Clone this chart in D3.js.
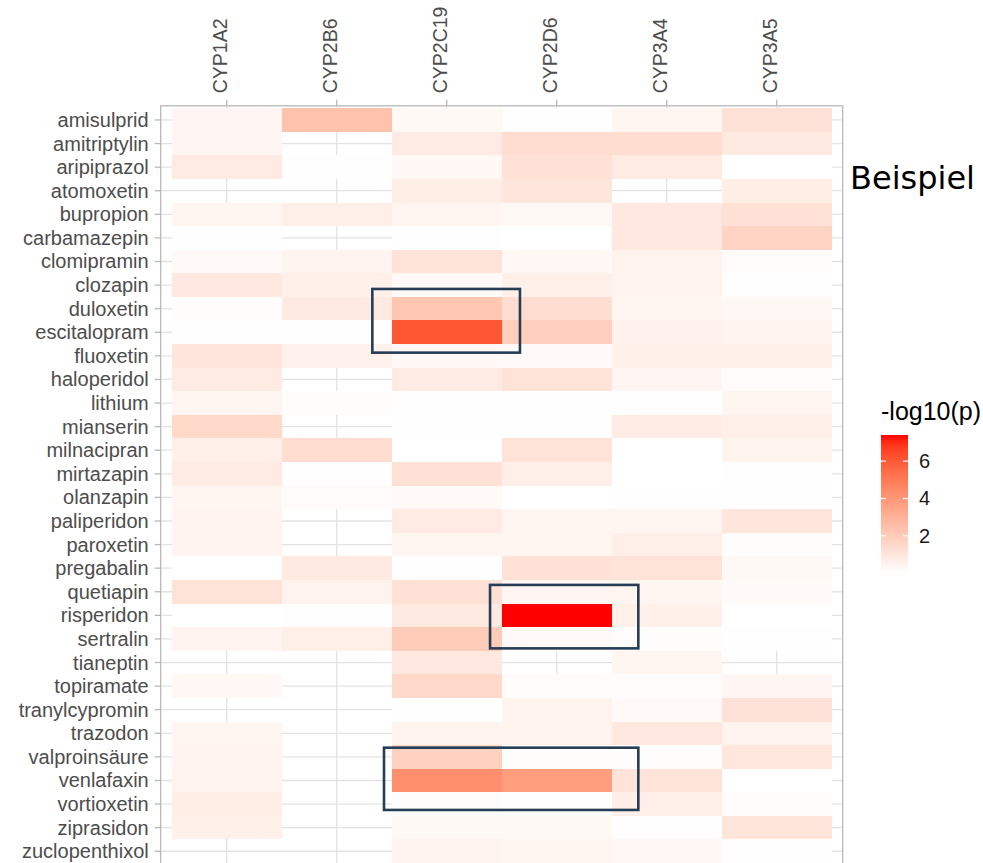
<!DOCTYPE html>
<html>
<head>
<meta charset="utf-8">
<script src="https://cdn.jsdelivr.net/npm/d3@7"></script>
<style>
  body { margin: 0; background: #fff; }
  svg { display: block; }
</style>
</head>
<body>
<svg id="chart" width="983" height="863"></svg>
<script>
// Drugs (rows, top to bottom) and CYP enzymes (columns)
const drugs = [
  "amisulprid", "amitriptylin", "aripiprazol", "atomoxetin", "bupropion",
  "carbamazepin", "clomipramin", "clozapin", "duloxetin", "escitalopram",
  "fluoxetin", "haloperidol", "lithium", "mianserin", "milnacipran",
  "mirtazapin", "olanzapin", "paliperidon", "paroxetin", "pregabalin",
  "quetiapin", "risperidon", "sertralin", "tianeptin", "topiramate",
  "tranylcypromin", "trazodon", "valproinsäure", "venlafaxin", "vortioxetin",
  "ziprasidon", "zuclopenthixol"
];
const enzymes = ["CYP1A2", "CYP2B6", "CYP2C19", "CYP2D6", "CYP3A4", "CYP3A5"];

// -log10(p) per enzyme, one value per drug (null = no test)
const cyp1a2 = [0.35, 0.35, 0.8, null, 0.4, 0.03, 0.2, 0.9, 0.1, 0.05,
  1.0, 0.8, 0.4, 1.5, 0.65, 0.8, 0.4, 0.45, 0.45, 0.02,
  1.1, 0.02, 0.45, null, 0.3, null, 0.4, 0.45, 0.5, 0.7,
  0.6, null];
const cyp2b6 = [2.4, null, 0.05, null, 0.65, null, 0.45, 0.6, 0.85, 0.05,
  0.55, null, 0.1, null, 1.3, 0.05, 0.15, null, null, 0.85,
  0.5, 0.05, 0.65, null, null, null, null, null, null, null,
  null, null];
const cyp2c19 = [0.25, 0.8, 0.3, 0.7, 0.4, 0.03, 1.1, 0.2, 2.2, 6.1,
  0.3, 0.8, 0.05, 0.03, 0.02, 1.2, 0.2, 0.8, 0.4, 0.03,
  1.2, 0.85, 2.0, 0.9, 1.5, 0.03, 0.5, 1.8, 4.3, 0.08,
  0.25, 0.45];
const cyp2d6 = [0.03, 1.3, 1.2, 1.0, 0.25, 0.02, 0.3, 0.6, 1.3, 1.9,
  0.2, 1.1, 0.03, 0.03, 1.1, 0.65, 0.02, 0.4, 0.4, 1.2,
  0.35, 7.4, 0.2, null, 0.12, 0.5, 0.5, 0.08, 3.8, 0.03,
  0.25, 0.4];
const cyp3a4 = [0.4, 1.3, 0.8, null, 0.9, 0.9, 0.5, 0.5, 0.4, 0.55,
  0.6, 0.35, 0.05, 0.75, 0.01, 0.02, 0.03, 0.4, 0.65, 1.1,
  0.4, 0.6, 0.08, 0.4, 0.08, 0.2, 0.9, 0.08, 1.1, 0.65,
  0.05, 0.3];
const cyp3a5 = [1.15, 0.85, 0.02, 0.7, 1.2, 1.7, 0.15, 0.03, 0.3, 0.5,
  0.6, 0.15, 0.4, 0.65, 0.5, 0.03, 0.03, 1.0, 0.08, 0.25,
  0.2, 0.01, 0.05, null, 0.35, 1.15, 0.5, 0.95, 0.02, 0.12,
  1.05, 0.05];

const legendTicks = [2, 4, 6];
const legendTitle = "-log10(p)";
const sideNote = "Beispiel";

// Highlight boxes, in axis units (1-based enzyme / drug positions)
const boxXmin = [2.324, 3.394, 2.43];
const boxXmax = [3.666, 4.742, 4.742];
const boxYmin = [8.164, 20.71, 27.61];
const boxYmax = [10.864, 23.40, 30.25];

// Long-format table built from the series above
const series = [cyp1a2, cyp2b6, cyp2c19, cyp2d6, cyp3a4, cyp3a5];
const cells = [];
enzymes.forEach((e, j) => {
  series[j].forEach((v, i) => {
    if (v !== null) cells.push({ enzyme: e, drug: drugs[i], value: v });
  });
});

const svg = d3.select("#chart");
const panel = { left: 160.7, right: 842.7, top: 105.8, bottom: 865.4 };

const x = d3.scaleBand().domain(enzymes)
  .range([panel.left, panel.right]).paddingInner(0).paddingOuter(0.1);
const y = d3.scaleBand().domain(drugs)
  .range([panel.top, panel.bottom]).paddingInner(0).paddingOuter(0.1);

// continuous position helpers (1-based, like a discrete axis)
const xc = d3.scaleLinear().domain([1, 2])
  .range([x(enzymes[0]) + x.bandwidth() / 2, x(enzymes[1]) + x.bandwidth() / 2]);
const yc = d3.scaleLinear().domain([1, 2])
  .range([y(drugs[0]) + y.bandwidth() / 2, y(drugs[1]) + y.bandwidth() / 2]);

const extent = d3.extent(cells, d => d.value);
const color = d3.scaleLinear().domain(extent).range(["white", "red"])
  .interpolate(d3.interpolateLab);

const gridColor = "#e3e3e3";
const borderColor = "#b8b8b8";
const axisText = "#4d4d4d";
const font = "'Liberation Sans', Arial, Helvetica, sans-serif";

// grid lines behind the tiles
const grid = svg.append("g");
grid.selectAll("line.v").data(enzymes).join("line")
  .attr("x1", d => x(d) + x.bandwidth() / 2).attr("x2", d => x(d) + x.bandwidth() / 2)
  .attr("y1", panel.top).attr("y2", panel.bottom)
  .attr("stroke", gridColor).attr("stroke-width", 1.3);
grid.selectAll("line.h").data(drugs).join("line")
  .attr("y1", d => y(d) + y.bandwidth() / 2).attr("y2", d => y(d) + y.bandwidth() / 2)
  .attr("x1", panel.left).attr("x2", panel.right)
  .attr("stroke", gridColor).attr("stroke-width", 1.3);

// tiles
svg.append("g").selectAll("rect").data(cells).join("rect")
  .attr("x", d => x(d.enzyme))
  .attr("y", d => y(d.drug))
  .attr("width", x.bandwidth())
  .attr("height", y.bandwidth())
  .attr("fill", d => color(d.value))
  .attr("shape-rendering", "crispEdges");

// panel border
svg.append("rect")
  .attr("x", panel.left).attr("y", panel.top)
  .attr("width", panel.right - panel.left).attr("height", panel.bottom - panel.top)
  .attr("fill", "none").attr("stroke", borderColor).attr("stroke-width", 1.3);

// top axis with rotated labels
const xAxis = svg.append("g")
  .attr("transform", `translate(0,${panel.top})`)
  .call(d3.axisTop(x).tickSize(6).tickPadding(6));
xAxis.select(".domain").remove();
xAxis.selectAll(".tick line").attr("stroke", borderColor).attr("stroke-width", 1.3);
xAxis.selectAll(".tick text")
  .attr("transform", "rotate(-90)")
  .attr("text-anchor", "start")
  .attr("x", 12.5).attr("y", 0).attr("dy", "0.02em")
  .attr("fill", axisText)
  .style("font-family", font).style("font-size", "19.5px");

// left axis
const yAxis = svg.append("g")
  .attr("transform", `translate(${panel.left},0)`)
  .call(d3.axisLeft(y).tickSize(6).tickPadding(6));
yAxis.select(".domain").remove();
yAxis.selectAll(".tick line").attr("stroke", borderColor).attr("stroke-width", 1.3);
yAxis.selectAll(".tick text")
  .attr("fill", axisText)
  .attr("dy", "0.35em")
  .style("font-family", font).style("font-size", "20px");

// highlight boxes
const boxes = boxXmin.map((v, i) => ({ x0: v, x1: boxXmax[i], y0: boxYmin[i], y1: boxYmax[i] }));
svg.append("g").selectAll("rect").data(boxes).join("rect")
  .attr("x", d => xc(d.x0)).attr("y", d => yc(d.y0))
  .attr("width", d => xc(d.x1) - xc(d.x0))
  .attr("height", d => yc(d.y1) - yc(d.y0))
  .attr("fill", "none").attr("stroke", "#253d55").attr("stroke-width", 2.6);

// side note
svg.append("text")
  .attr("x", 850).attr("y", 189)
  .attr("fill", "#000")
  .style("font-family", "'DejaVu Sans', Verdana, sans-serif")
  .style("font-size", "32px")
  .text(sideNote);

// colour bar legend
const bar = { x: 881, w: 27, top: 435, bottom: 573 };
const legendY = d3.scaleLinear().domain(extent).range([bar.bottom, bar.top]);

const defs = svg.append("defs");
const grad = defs.append("linearGradient").attr("id", "barGrad")
  .attr("x1", 0).attr("y1", 1).attr("x2", 0).attr("y2", 0);
d3.range(0, 1.0001, 0.05).forEach(t => {
  grad.append("stop").attr("offset", t)
    .attr("stop-color", color(extent[0] + t * (extent[1] - extent[0])));
});

svg.append("text")
  .attr("x", bar.x).attr("y", 420)
  .attr("fill", "#000")
  .style("font-family", font).style("font-size", "25px")
  .text(legendTitle);

svg.append("rect")
  .attr("x", bar.x).attr("y", bar.top)
  .attr("width", bar.w).attr("height", bar.bottom - bar.top)
  .attr("fill", "url(#barGrad)");

const lt = svg.append("g");
lt.selectAll("line.l").data(legendTicks).join("line")
  .attr("x1", bar.x).attr("x2", bar.x + 5)
  .attr("y1", d => legendY(d)).attr("y2", d => legendY(d))
  .attr("stroke", "#fff").attr("stroke-width", 1.2);
lt.selectAll("line.r").data(legendTicks).join("line")
  .attr("x1", bar.x + bar.w - 5).attr("x2", bar.x + bar.w)
  .attr("y1", d => legendY(d)).attr("y2", d => legendY(d))
  .attr("stroke", "#fff").attr("stroke-width", 1.2);
lt.selectAll("text").data(legendTicks).join("text")
  .attr("x", bar.x + bar.w + 11)
  .attr("y", d => legendY(d))
  .attr("dy", "0.35em")
  .attr("fill", "#1a1a1a")
  .style("font-family", font).style("font-size", "20px")
  .text(d => d);
</script>
</body>
</html>
